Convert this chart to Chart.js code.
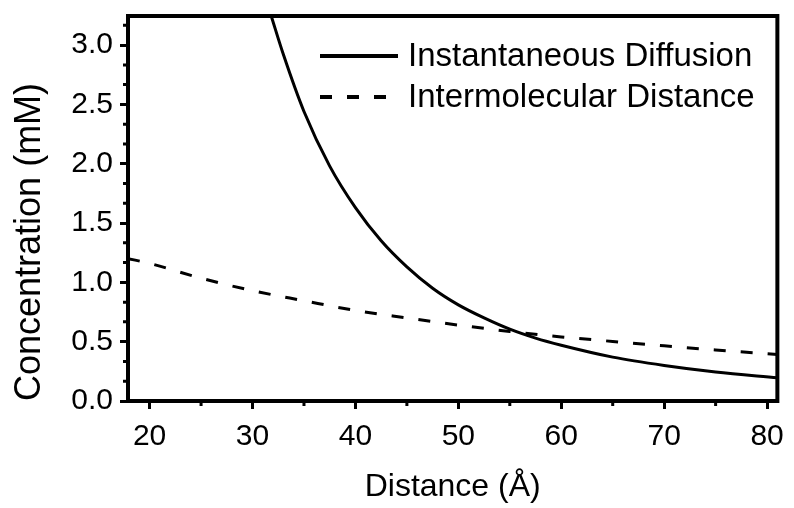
<!DOCTYPE html>
<html>
<head>
<meta charset="utf-8">
<script src="https://cdn.jsdelivr.net/npm/chart.js@4.4.0/dist/chart.umd.min.js"></script>
<style>
  html, body { margin: 0; padding: 0; background: #fff; }
  #wrap { width: 794px; height: 508px; }
</style>
</head>
<body>
<div id="wrap"><canvas id="chart"></canvas></div>
<script>
var seriesNames = ["Instantaneous Diffusion", "Intermolecular Distance"];
// solid curve
var diffusionX = [31.8, 33, 35, 37.5, 40, 42.5, 45, 47.5, 50, 52.5, 55, 57.5, 60, 65, 70, 75, 81];
var diffusionY = [3.25, 2.92, 2.44, 1.98, 1.63, 1.35, 1.13, 0.95, 0.81, 0.70, 0.605, 0.53, 0.47, 0.37, 0.30, 0.245, 0.195];
// dashed curve
var distanceX = [17.9, 20, 25, 30, 35, 40, 45, 50, 55, 60, 65, 70, 75, 81];
var distanceY = [1.20, 1.16, 1.035, 0.93, 0.845, 0.763, 0.70, 0.64, 0.586, 0.54, 0.502, 0.465, 0.43, 0.392];
// axes
var xTicks = [20, 30, 40, 50, 60, 70, 80];
var xMinor = [25, 35, 45, 55, 65, 75];
var yTicks = [0.0, 0.5, 1.0, 1.5, 2.0, 2.5, 3.0];
var yMinor = [0.167, 0.333, 0.667, 0.833, 1.167, 1.333, 1.667, 1.833, 2.167, 2.333, 2.667, 2.833, 3.167];

var fontFamily = "'Liberation Sans', Arial, sans-serif";
Chart.defaults.font.family = fontFamily;
Chart.defaults.color = "#000";

function toPoints(xs, ys) {
    return xs.map(function (x, i) { return { x: x, y: ys[i] }; });
}

var extras = {
    id: "extras",
    afterDraw: function (chart) {
        var ctx = chart.ctx, area = chart.chartArea;
        var sx = chart.scales.x, sy = chart.scales.y;
        ctx.save();
        ctx.strokeStyle = "#000";
        // frame on all four sides
        ctx.lineWidth = 4;
        ctx.strokeRect(area.left, area.top, area.right - area.left, area.bottom - area.top);
        // minor ticks, shorter than the major ones
        ctx.lineWidth = 3;
        ctx.beginPath();
        xMinor.forEach(function (v) {
            var px = sx.getPixelForValue(v);
            ctx.moveTo(px, area.bottom);
            ctx.lineTo(px, area.bottom + 5);
        });
        yMinor.forEach(function (v) {
            var py = sy.getPixelForValue(v);
            ctx.moveTo(area.left, py);
            ctx.lineTo(area.left - 5, py);
        });
        ctx.stroke();
        // legend inside the plot
        var lx = area.left + 192, rows = [56, 97];
        ctx.font = "33px " + fontFamily;
        ctx.fillStyle = "#000";
        ctx.textBaseline = "middle";
        chart.data.datasets.forEach(function (ds, i) {
            ctx.lineWidth = 4;
            ctx.setLineDash(ds.borderDash || []);
            ctx.beginPath();
            ctx.moveTo(lx, rows[i]);
            ctx.lineTo(lx + (ds.borderDash ? 68 : 78), rows[i]);
            ctx.stroke();
            ctx.setLineDash([]);
            ctx.fillText(ds.label, lx + 88, rows[i] + 1);
        });
        ctx.restore();
    }
};

new Chart(document.getElementById("chart").getContext("2d"), {
    type: "scatter",
    data: {
        datasets: [
            {
                label: seriesNames[0],
                data: toPoints(diffusionX, diffusionY),
                showLine: true,
                borderColor: "#000",
                borderWidth: 3,
                pointRadius: 0,
                cubicInterpolationMode: "monotone",
            },
            {
                label: seriesNames[1],
                data: toPoints(distanceX, distanceY),
                showLine: true,
                borderColor: "#000",
                borderWidth: 3,
                borderDash: [12, 15],
                pointRadius: 0,
                cubicInterpolationMode: "monotone",
            },
        ],
    },
    options: {
        responsive: true,
        maintainAspectRatio: false,
        animation: false,
        layout: { padding: { top: 16, right: 15, left: 0, bottom: 0 } },
        plugins: { legend: { display: false }, tooltip: { enabled: false } },
        scales: {
            x: {
                type: "linear",
                min: 17.9,
                max: 81,
                afterBuildTicks: function (s) { s.ticks = xTicks.map(function (v) { return { value: v }; }); },
                afterFit: function (s) { s.height = 107; },
                ticks: { font: { size: 30 }, color: "#000", padding: 10, maxRotation: 0,
                    callback: function (v) { return String(v); } },
                grid: { drawOnChartArea: false, tickLength: 8, tickWidth: 3, tickColor: "#000" },
                border: { color: "#000", width: 4 },
                title: { display: true, text: "Distance (Å)", font: { size: 32 }, color: "#000",
                    padding: { top: 0, bottom: 2 } },
            },
            y: {
                type: "linear",
                min: 0,
                max: 3.245,
                afterBuildTicks: function (s) { s.ticks = yTicks.map(function (v) { return { value: v }; }); },
                afterFit: function (s) { s.width = 128; s.paddingTop = 0; s.paddingBottom = 0; },
                ticks: { font: { size: 30 }, color: "#000", padding: 7,
                    callback: function (v) { return Number(v).toFixed(1); } },
                grid: { drawOnChartArea: false, tickLength: 8, tickWidth: 3, tickColor: "#000" },
                border: { color: "#000", width: 4 },
                title: { display: true, text: "Concentration (mM)", font: { size: 36 }, color: "#000",
                    align: "start", padding: { top: 8, bottom: 0 } },
            },
        },
    },
    plugins: [extras],
});
</script>
</body>
</html>
